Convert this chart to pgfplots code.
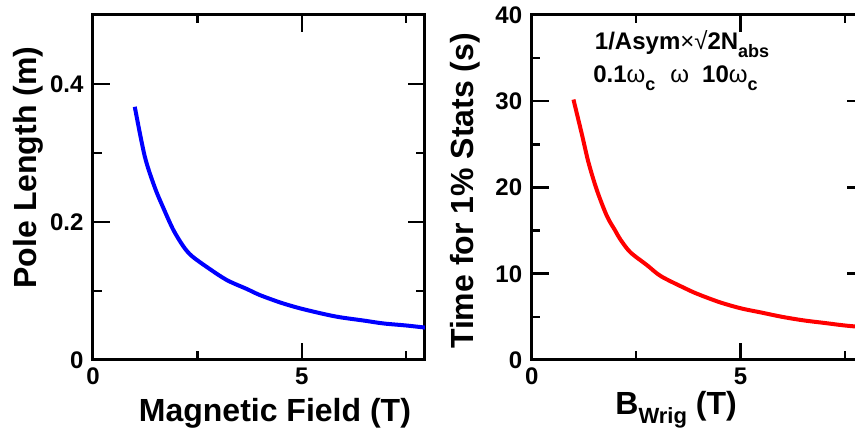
\documentclass[border=0pt]{standalone}
\usepackage{fontspec}
\setmainfont{Liberation Sans}
\usepackage{pgfplots}
\pgfplotsset{compat=1.18}
\begin{document}
\begin{tikzpicture}[x=1pt,y=1pt]
\pgfplotsset{
  every axis/.append style={
    scale only axis, width=332pt, height=345pt,
    xmin=0, xmax=7.95,
    xtick={0,5}, minor xtick={2.5,7.5},
    /pgf/number format/assume math mode=true,
    /pgf/number format/fixed,
    tick label style={font=\fontsize{24}{24}\selectfont\bfseries},
    xticklabel style={yshift=-4pt},
    yticklabel style={xshift=-6pt},
    major tick length=17pt, minor tick length=8.5pt,
    tick align=inside,
    every tick/.style={black, line width=2.5pt},
    axis line style={line width=3pt},
    label style={font=\fontsize{32}{32}\selectfont\bfseries},
    clip=true,
  }
}
% left panel
\begin{axis}[
  at={(93pt,73pt)}, anchor=south west,
  ymin=0, ymax=0.5,
  ytick={0,0.2,0.4}, minor ytick={0.1,0.3},
  xlabel={Magnetic Field (T)},
  ylabel={Pole Length (m)},
  xlabel style={at={(axis description cs:0.548,-0.179)}, anchor=base},
  ylabel style={at={(axis description cs:-0.169,0.558)}, anchor=base},
]
\addplot[color={rgb,255:red,0;green,0;blue,255}, line width=4pt, line join=round, smooth, tension=0.5] coordinates {
(1.0,0.367) (1.24,0.295) (1.48,0.250) (1.68,0.221) (1.92,0.189) (2.16,0.165)
(2.36,0.151) (2.72,0.135) (3.2,0.116) (3.68,0.103) (4.0,0.094) (4.5,0.083)
(4.95,0.075) (5.5,0.067) (5.91,0.062) (6.5,0.057) (6.95,0.053) (7.5,0.050) (7.95,0.047)
};
\end{axis}
% right panel
\begin{axis}[
  at={(531.7pt,73pt)}, anchor=south west,
  ymin=0, ymax=40,
  ytick={0,10,20,30,40}, minor ytick={5,15,25,35},
  xlabel={B\raisebox{-9pt}{\fontsize{22}{22}\selectfont Wrig} (T)},
  ylabel={Time for 1\% Stats (s)},
  xlabel style={at={(axis description cs:0.435,-0.159)}, anchor=base},
  ylabel style={at={(axis description cs:-0.174,0.49)}, anchor=base},
]
\addplot[color={rgb,255:red,255;green,0;blue,0}, line width=4pt, line join=round, smooth, tension=0.5] coordinates {
(1.0,30.2) (1.2,26.2) (1.36,22.9) (1.56,19.7) (1.8,16.7) (2.0,15.0) (2.12,14.0)
(2.36,12.5) (2.76,11.0) (3.1,9.7) (3.72,8.2) (4.0,7.6) (4.5,6.7) (5.0,6.0)
(5.5,5.5) (6.0,5.0) (6.5,4.6) (7.0,4.3) (7.5,4.0) (7.95,3.8)
};
\node[anchor=base west, inner sep=0pt, font=\fontsize{24}{24}\selectfont\bfseries]
  at (rel axis cs:0.19,0.899) {1/Asym{\mdseries ×√}2N\raisebox{-8pt}{\fontsize{18}{18}\selectfont abs}};
\node[anchor=base west, inner sep=0pt, font=\fontsize{24}{24}\selectfont\bfseries]
  at (rel axis cs:0.185,0.803) {0.1{\mdseries ω}\raisebox{-8pt}{\fontsize{18}{18}\selectfont c}\hspace{15pt}{\mdseries ω}\hspace{13pt}10{\mdseries ω}\raisebox{-8pt}{\fontsize{18}{18}\selectfont c}};
\end{axis}
\pgfresetboundingbox
\path[use as bounding box] (0,0) rectangle (855pt,433pt);
\end{tikzpicture}
\end{document}
